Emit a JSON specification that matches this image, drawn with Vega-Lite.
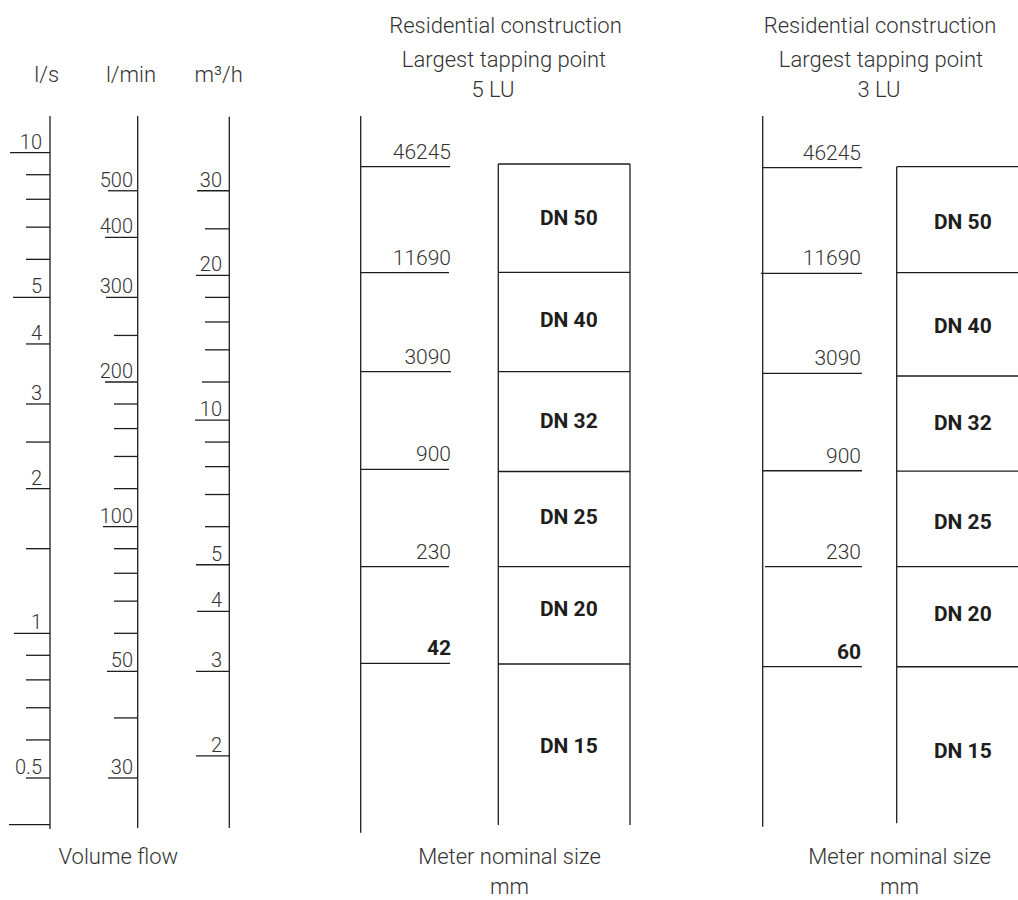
{
  "$schema": "https://vega.github.io/schema/vega-lite/v6.json",
  "width": 1018,
  "height": 900,
  "autosize": {"type": "none"},
  "padding": 0,
  "background": "white",
  "config": {
    "view": {"stroke": null},
    "text": {"font": "Roboto", "fontWeight": 300, "color": "#333333"},
    "rule": {"color": "#1e1e1e", "strokeWidth": 1.3}
  },
  "datasets": {
    "vlines": [
      {"part": "l/s axis", "x": 50, "top": 11.92, "bot": 0.3916},
      {"part": "l/min axis", "x": 137.7, "top": 11.92, "bot": 0.3935},
      {"part": "m3/h axis", "x": 229.3, "top": 11.88, "bot": 0.3935},
      {"part": "5 LU axis", "x": 360.7, "top": 11.92, "bot": 0.3847},
      {"part": "5 LU box left", "x": 498.3, "top": 9.473, "bot": 0.3993},
      {"part": "5 LU box right", "x": 630, "top": 9.473, "bot": 0.3993},
      {"part": "3 LU axis", "x": 762.7, "top": 11.92, "bot": 0.3959},
      {"part": "3 LU box left", "x": 896.7, "top": 9.351, "bot": 0.4025}
    ],
    "ticks": [
      {"scale": "l/s", "flow": 10, "x1": 10, "x2": 50, "lx": 42, "label": "10"},
      {"scale": "l/s", "flow": 9, "x1": 26, "x2": 50, "lx": 42, "label": ""},
      {"scale": "l/s", "flow": 8, "x1": 26, "x2": 50, "lx": 42, "label": ""},
      {"scale": "l/s", "flow": 7, "x1": 26, "x2": 50, "lx": 42, "label": ""},
      {"scale": "l/s", "flow": 6, "x1": 26, "x2": 50, "lx": 42, "label": ""},
      {"scale": "l/s", "flow": 5, "x1": 13, "x2": 50, "lx": 42, "label": "5"},
      {"scale": "l/s", "flow": 4, "x1": 26, "x2": 50, "lx": 42, "label": "4"},
      {"scale": "l/s", "flow": 3, "x1": 26, "x2": 50, "lx": 42, "label": "3"},
      {"scale": "l/s", "flow": 2.5, "x1": 26, "x2": 50, "lx": 42, "label": ""},
      {"scale": "l/s", "flow": 2, "x1": 26, "x2": 50, "lx": 42, "label": "2"},
      {"scale": "l/s", "flow": 1.5, "x1": 26, "x2": 50, "lx": 42, "label": ""},
      {"scale": "l/s", "flow": 1, "x1": 14, "x2": 50, "lx": 42, "label": "1"},
      {"scale": "l/s", "flow": 0.9, "x1": 26, "x2": 50, "lx": 42, "label": ""},
      {"scale": "l/s", "flow": 0.8, "x1": 26, "x2": 50, "lx": 42, "label": ""},
      {"scale": "l/s", "flow": 0.7, "x1": 26, "x2": 50, "lx": 42, "label": ""},
      {"scale": "l/s", "flow": 0.6, "x1": 26, "x2": 50, "lx": 42, "label": ""},
      {"scale": "l/s", "flow": 0.5, "x1": 26, "x2": 50, "lx": 42, "label": "0.5"},
      {"scale": "l/s", "flow": 0.4, "x1": 9, "x2": 50, "lx": 42, "label": ""},
      {"scale": "l/min", "flow": 8.3333, "x1": 108, "x2": 137.7, "lx": 133, "label": "500"},
      {"scale": "l/min", "flow": 6.6667, "x1": 105, "x2": 137.7, "lx": 133, "label": "400"},
      {"scale": "l/min", "flow": 5.0, "x1": 106, "x2": 137.7, "lx": 133, "label": "300"},
      {"scale": "l/min", "flow": 4.1667, "x1": 114, "x2": 137.7, "lx": 133, "label": ""},
      {"scale": "l/min", "flow": 3.3333, "x1": 105, "x2": 137.7, "lx": 133, "label": "200"},
      {"scale": "l/min", "flow": 3.0, "x1": 114, "x2": 137.7, "lx": 133, "label": ""},
      {"scale": "l/min", "flow": 2.6667, "x1": 114, "x2": 137.7, "lx": 133, "label": ""},
      {"scale": "l/min", "flow": 2.3333, "x1": 114, "x2": 137.7, "lx": 133, "label": ""},
      {"scale": "l/min", "flow": 2.0, "x1": 114, "x2": 137.7, "lx": 133, "label": ""},
      {"scale": "l/min", "flow": 1.6667, "x1": 103, "x2": 137.7, "lx": 133, "label": "100"},
      {"scale": "l/min", "flow": 1.5, "x1": 114, "x2": 137.7, "lx": 133, "label": ""},
      {"scale": "l/min", "flow": 1.3333, "x1": 114, "x2": 137.7, "lx": 133, "label": ""},
      {"scale": "l/min", "flow": 1.1667, "x1": 114, "x2": 137.7, "lx": 133, "label": ""},
      {"scale": "l/min", "flow": 1.0, "x1": 114, "x2": 137.7, "lx": 133, "label": ""},
      {"scale": "l/min", "flow": 0.8333, "x1": 107, "x2": 137.7, "lx": 133, "label": "50"},
      {"scale": "l/min", "flow": 0.6667, "x1": 114, "x2": 137.7, "lx": 133, "label": ""},
      {"scale": "l/min", "flow": 0.5, "x1": 108, "x2": 137.7, "lx": 133, "label": "30"},
      {"scale": "m3/h", "flow": 8.3333, "x1": 197, "x2": 229.3, "lx": 222, "label": "30"},
      {"scale": "m3/h", "flow": 6.9444, "x1": 205, "x2": 229.3, "lx": 222, "label": ""},
      {"scale": "m3/h", "flow": 5.5556, "x1": 196, "x2": 229.3, "lx": 222, "label": "20"},
      {"scale": "m3/h", "flow": 5.0, "x1": 205, "x2": 229.3, "lx": 222, "label": ""},
      {"scale": "m3/h", "flow": 4.4444, "x1": 205, "x2": 229.3, "lx": 222, "label": ""},
      {"scale": "m3/h", "flow": 3.8889, "x1": 205, "x2": 229.3, "lx": 222, "label": ""},
      {"scale": "m3/h", "flow": 3.3333, "x1": 202, "x2": 229.3, "lx": 222, "label": ""},
      {"scale": "m3/h", "flow": 2.7778, "x1": 195, "x2": 229.3, "lx": 222, "label": "10"},
      {"scale": "m3/h", "flow": 2.5, "x1": 205, "x2": 229.3, "lx": 222, "label": ""},
      {"scale": "m3/h", "flow": 2.2222, "x1": 205, "x2": 229.3, "lx": 222, "label": ""},
      {"scale": "m3/h", "flow": 1.9444, "x1": 205, "x2": 229.3, "lx": 222, "label": ""},
      {"scale": "m3/h", "flow": 1.6667, "x1": 205, "x2": 229.3, "lx": 222, "label": ""},
      {"scale": "m3/h", "flow": 1.3889, "x1": 196, "x2": 229.3, "lx": 222, "label": "5"},
      {"scale": "m3/h", "flow": 1.1111, "x1": 197, "x2": 229.3, "lx": 222, "label": "4"},
      {"scale": "m3/h", "flow": 0.8333, "x1": 196, "x2": 229.3, "lx": 222, "label": "3"},
      {"scale": "m3/h", "flow": 0.5556, "x1": 196, "x2": 229.3, "lx": 222, "label": "2"}
    ],
    "lu": [
      {"col": "5 LU", "flow": 9.351, "x1": 360.7, "x2": 450, "lx": 451, "label": "46245", "role": "limit"},
      {"col": "5 LU", "flow": 5.628, "x1": 360.7, "x2": 449, "lx": 451, "label": "11690", "role": "limit"},
      {"col": "5 LU", "flow": 3.502, "x1": 360.7, "x2": 451, "lx": 451, "label": "3090", "role": "limit"},
      {"col": "5 LU", "flow": 2.194, "x1": 360.7, "x2": 449, "lx": 451, "label": "900", "role": "limit"},
      {"col": "5 LU", "flow": 1.376, "x1": 360.7, "x2": 449, "lx": 451, "label": "230", "role": "limit"},
      {"col": "5 LU", "flow": 0.8662, "x1": 360.7, "x2": 450, "lx": 451, "label": "42", "role": "minimum"},
      {"col": "3 LU", "flow": 9.307, "x1": 762.7, "x2": 862, "lx": 861, "label": "46245", "role": "limit"},
      {"col": "3 LU", "flow": 5.612, "x1": 761, "x2": 862, "lx": 861, "label": "11690", "role": "limit"},
      {"col": "3 LU", "flow": 3.475, "x1": 762.7, "x2": 862, "lx": 861, "label": "3090", "role": "limit"},
      {"col": "3 LU", "flow": 2.179, "x1": 762.7, "x2": 862, "lx": 861, "label": "900", "role": "limit"},
      {"col": "3 LU", "flow": 1.376, "x1": 765, "x2": 862, "lx": 861, "label": "230", "role": "limit"},
      {"col": "3 LU", "flow": 0.8522, "x1": 762.7, "x2": 862, "lx": 861, "label": "60", "role": "minimum"}
    ],
    "boxlines": [
      {"col": "5 LU", "flow": 9.473, "x1": 498.3, "x2": 630},
      {"col": "5 LU", "flow": 5.639, "x1": 498.3, "x2": 630},
      {"col": "5 LU", "flow": 3.502, "x1": 498.3, "x2": 630},
      {"col": "5 LU", "flow": 2.171, "x1": 498.3, "x2": 630},
      {"col": "5 LU", "flow": 1.376, "x1": 498.3, "x2": 630},
      {"col": "5 LU", "flow": 0.8633, "x1": 498.3, "x2": 630},
      {"col": "3 LU", "flow": 9.351, "x1": 896.7, "x2": 1018},
      {"col": "3 LU", "flow": 5.628, "x1": 896.7, "x2": 1018},
      {"col": "3 LU", "flow": 3.431, "x1": 896.7, "x2": 1018},
      {"col": "3 LU", "flow": 2.176, "x1": 896.7, "x2": 1018},
      {"col": "3 LU", "flow": 1.376, "x1": 896.7, "x2": 1018},
      {"col": "3 LU", "flow": 0.852, "x1": 896.7, "x2": 1018}
    ],
    "dn": [
      {"col": "5 LU", "dn": "DN 50", "mid": 7.278, "cx": 568.8},
      {"col": "5 LU", "dn": "DN 40", "mid": 4.472, "cx": 568.8},
      {"col": "5 LU", "dn": "DN 32", "mid": 2.748, "cx": 568.8},
      {"col": "5 LU", "dn": "DN 25", "mid": 1.735, "cx": 568.8},
      {"col": "5 LU", "dn": "DN 20", "mid": 1.118, "cx": 568.8},
      {"col": "5 LU", "dn": "DN 15", "mid": 0.5808, "cx": 568.8},
      {"col": "3 LU", "dn": "DN 50", "mid": 7.13, "cx": 962.8},
      {"col": "3 LU", "dn": "DN 40", "mid": 4.333, "cx": 962.8},
      {"col": "3 LU", "dn": "DN 32", "mid": 2.726, "cx": 962.8},
      {"col": "3 LU", "dn": "DN 25", "mid": 1.699, "cx": 962.8},
      {"col": "3 LU", "dn": "DN 20", "mid": 1.092, "cx": 962.8},
      {"col": "3 LU", "dn": "DN 15", "mid": 0.5671, "cx": 962.8}
    ],
    "titles": [
      {"text": "l/s", "cx": 46.7, "flow": 14.05},
      {"text": "l/min", "cx": 131, "flow": 14.05},
      {"text": "m³/h", "cx": 218.7, "flow": 14.05},
      {"text": "Residential construction", "cx": 505.5, "flow": 17.72},
      {"text": "Largest tapping point", "cx": 504, "flow": 15.1},
      {"text": "5 LU", "cx": 493, "flow": 13.08},
      {"text": "Residential construction", "cx": 880, "flow": 17.72},
      {"text": "Largest tapping point", "cx": 881, "flow": 15.1},
      {"text": "3 LU", "cx": 879, "flow": 13.08},
      {"text": "Volume flow", "cx": 118.3, "flow": 0.3306},
      {"text": "Meter nominal size", "cx": 509.5, "flow": 0.3306},
      {"text": "mm", "cx": 509.5, "flow": 0.2868},
      {"text": "Meter nominal size", "cx": 899.5, "flow": 0.3306},
      {"text": "mm", "cx": 899.5, "flow": 0.2868}
    ]
  },
  "layer": [
    {
      "data": {"name": "vlines"},
      "mark": {"type": "rule"},
      "encoding": {
        "x": {"field": "x", "type": "quantitative", "scale": {"domain": [0, 1018], "nice": false, "zero": false}, "axis": null},
        "y": {"field": "top", "type": "quantitative", "scale": {"type": "log", "domain": [0.27866, 20.785], "nice": false}, "axis": null},
        "y2": {"field": "bot"}
      }
    },
    {
      "data": {"name": "ticks"},
      "mark": {"type": "rule"},
      "encoding": {
        "x": {"field": "x1", "type": "quantitative", "scale": {"domain": [0, 1018], "nice": false, "zero": false}, "axis": null},
        "x2": {"field": "x2"},
        "y": {"field": "flow", "type": "quantitative", "scale": {"type": "log", "domain": [0.27866, 20.785], "nice": false}, "axis": null}
      }
    },
    {
      "data": {"name": "lu"},
      "mark": {"type": "rule"},
      "encoding": {
        "x": {"field": "x1", "type": "quantitative", "scale": {"domain": [0, 1018], "nice": false, "zero": false}, "axis": null},
        "x2": {"field": "x2"},
        "y": {"field": "flow", "type": "quantitative", "scale": {"type": "log", "domain": [0.27866, 20.785], "nice": false}, "axis": null}
      }
    },
    {
      "data": {"name": "boxlines"},
      "mark": {"type": "rule"},
      "encoding": {
        "x": {"field": "x1", "type": "quantitative", "scale": {"domain": [0, 1018], "nice": false, "zero": false}, "axis": null},
        "x2": {"field": "x2"},
        "y": {"field": "flow", "type": "quantitative", "scale": {"type": "log", "domain": [0.27866, 20.785], "nice": false}, "axis": null}
      }
    },
    {
      "data": {"name": "ticks"},
      "transform": [{"filter": "datum.label != ''"}],
      "mark": {"type": "text", "align": "right", "baseline": "alphabetic", "dy": -4, "fontSize": 20},
      "encoding": {
        "x": {"field": "lx", "type": "quantitative", "scale": {"domain": [0, 1018], "nice": false, "zero": false}, "axis": null},
        "y": {"field": "flow", "type": "quantitative", "scale": {"type": "log", "domain": [0.27866, 20.785], "nice": false}, "axis": null},
        "text": {"field": "label"}
      }
    },
    {
      "data": {"name": "lu"},
      "transform": [{"filter": "datum.role == 'limit'"}],
      "mark": {"type": "text", "align": "right", "baseline": "alphabetic", "dy": -8, "fontSize": 21},
      "encoding": {
        "x": {"field": "lx", "type": "quantitative", "scale": {"domain": [0, 1018], "nice": false, "zero": false}, "axis": null},
        "y": {"field": "flow", "type": "quantitative", "scale": {"type": "log", "domain": [0.27866, 20.785], "nice": false}, "axis": null},
        "text": {"field": "label"}
      }
    },
    {
      "data": {"name": "lu"},
      "transform": [{"filter": "datum.role == 'minimum'"}],
      "mark": {"type": "text", "align": "right", "baseline": "alphabetic", "dy": -8, "fontSize": 21, "fontWeight": "bold", "color": "#1e1e1e"},
      "encoding": {
        "x": {"field": "lx", "type": "quantitative", "scale": {"domain": [0, 1018], "nice": false, "zero": false}, "axis": null},
        "y": {"field": "flow", "type": "quantitative", "scale": {"type": "log", "domain": [0.27866, 20.785], "nice": false}, "axis": null},
        "text": {"field": "label"}
      }
    },
    {
      "data": {"name": "dn"},
      "mark": {"type": "text", "align": "center", "baseline": "middle", "fontSize": 21, "fontWeight": "bold", "color": "#1e1e1e"},
      "encoding": {
        "x": {"field": "cx", "type": "quantitative", "scale": {"domain": [0, 1018], "nice": false, "zero": false}, "axis": null},
        "y": {"field": "mid", "type": "quantitative", "scale": {"type": "log", "domain": [0.27866, 20.785], "nice": false}, "axis": null},
        "text": {"field": "dn"}
      }
    },
    {
      "data": {"name": "titles"},
      "mark": {"type": "text", "align": "center", "baseline": "alphabetic", "fontSize": 22},
      "encoding": {
        "x": {"field": "cx", "type": "quantitative", "scale": {"domain": [0, 1018], "nice": false, "zero": false}, "axis": null},
        "y": {"field": "flow", "type": "quantitative", "scale": {"type": "log", "domain": [0.27866, 20.785], "nice": false}, "axis": null},
        "text": {"field": "text"}
      }
    }
  ]
}
